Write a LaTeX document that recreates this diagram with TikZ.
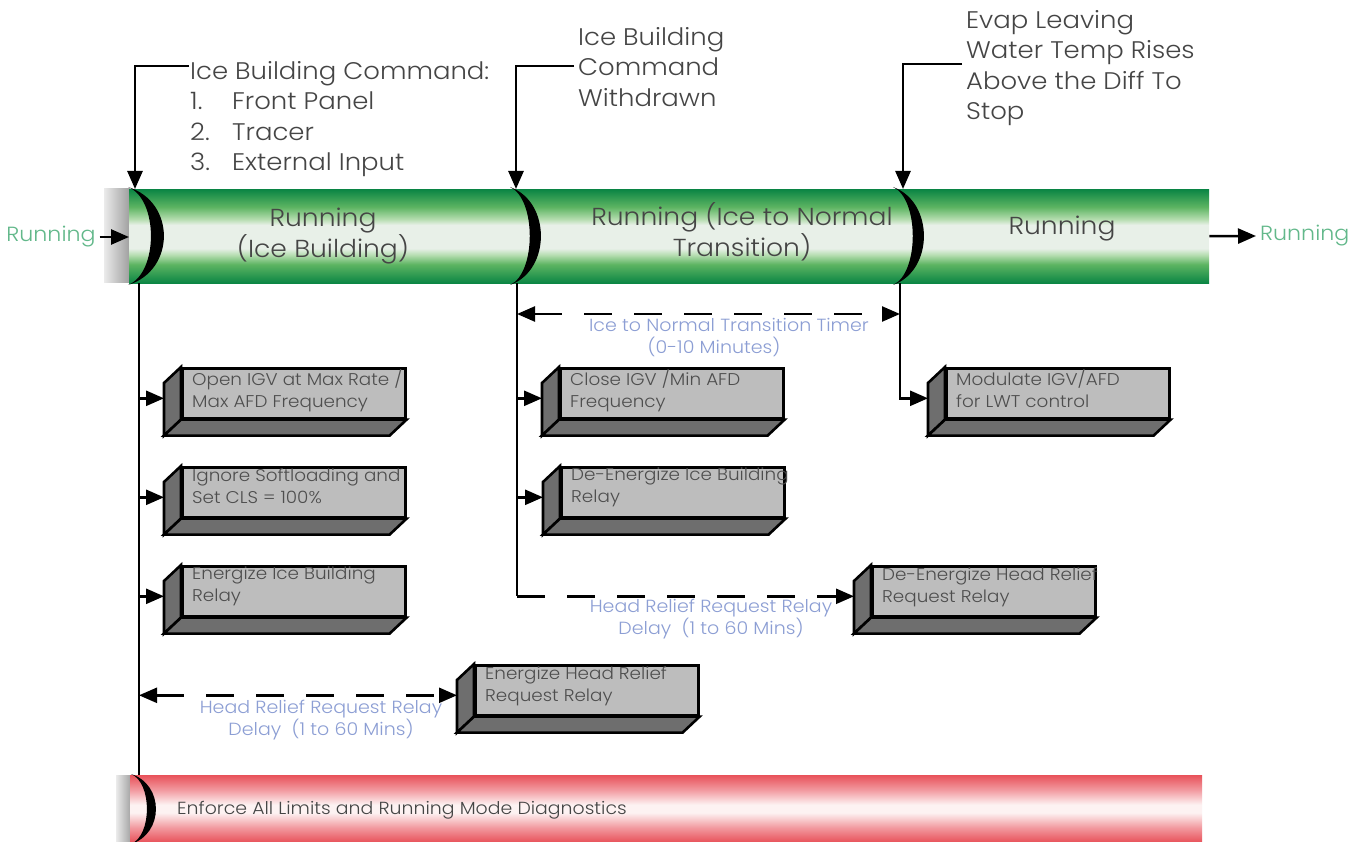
\documentclass[tikz,border=0pt]{standalone}
\usepackage{fontspec}
\setmainfont{Poppins}[UprightFont=* Light, FakeStretch=1.08]
\usetikzlibrary{arrows.meta,calc}
\definecolor{gdark}{HTML}{0A8544}
\definecolor{gmid}{HTML}{5DB462}
\definecolor{gpale}{HTML}{B5DDB0}
\definecolor{glight}{HTML}{E8F0E8}
\definecolor{rdark}{HTML}{E8525A}
\definecolor{rmid}{HTML}{F29AA0}
\definecolor{rlight}{HTML}{FDF2F2}
\definecolor{boxgray}{HTML}{BDBDBD}
\definecolor{sidegray}{HTML}{6E6E6E}
\definecolor{txtgray}{HTML}{4E4E4E}
\definecolor{annot}{HTML}{454545}
\definecolor{bluelab}{HTML}{8C9ED4}
\definecolor{greenlab}{HTML}{62B88A}
\pgfdeclareverticalshading{greenbar}{100bp}{color(0bp)=(gdark); color(25bp)=(gdark); color(35bp)=(gmid); color(40bp)=(gpale); color(43.5bp)=(glight); color(56bp)=(glight); color(59bp)=(gpale); color(65.5bp)=(gmid); color(75bp)=(gdark); color(100bp)=(gdark)}
\pgfdeclareverticalshading{redbar}{100bp}{color(0bp)=(rdark); color(25bp)=(rdark); color(36bp)=(rmid); color(47bp)=(rlight); color(53bp)=(rlight); color(64bp)=(rmid); color(75bp)=(rdark); color(100bp)=(rdark)}
\newcommand\mycresc[4]{%
  \fill[black] (#1,#2) .. controls ({#1+1.33*#4},{#2+0.15*(#3-#2)}) and ({#1+1.33*#4},{#3-0.15*(#3-#2)}) .. (#1,#3)
     .. controls ({#1+0.85*#4},{#3-0.12*(#3-#2)}) and ({#1+0.85*#4},{#2+0.12*(#3-#2)}) .. cycle;}
\newcommand\mybox[4]{%
  \node[front] (#1) at (#2,#3) {};
  \filldraw[side] (#1.north west) -- ++(-17,16) -- ([shift={(-17,16)}]#1.south west) -- (#1.south west) -- cycle;
  \filldraw[side] (#1.south west) -- ++(-17,16) -- ([shift={(-17,16)}]#1.south east) -- (#1.south east) -- cycle;
  \node[btxt] (#1t) at ([shift={(11,2)}]#1.north west) {#4};
  \coordinate (#1in) at ([shift={(-17,5)}]#1.west);}
\tikzset{
  conn/.style={line width=2.6pt, draw=black},
  arr/.style={-{Triangle[length=18pt,width=15pt]}},
  darr/.style={{Triangle[length=18pt,width=15pt]}-{Triangle[length=18pt,width=15pt]}},
  dsh/.style={line width=2.4pt, draw=black, dash pattern=on 28pt off 22pt},
  front/.style={draw=black, line width=2.6pt, fill=boxgray, minimum width=223pt, minimum height=50pt, anchor=north west, inner sep=0pt},
  side/.style={draw=black, line width=2.6pt, fill=sidegray, line join=miter},
  btxt/.style={text=txtgray, font=\fontsize{17}{22}\selectfont, align=left, anchor=north west, inner sep=0pt},
  annottxt/.style={text=annot, font=\fontsize{24}{30.5}\selectfont, align=left, anchor=north west, inner sep=0pt},
  bartxt/.style={text=annot, font=\fontsize{24.6}{31}\selectfont, align=center, inner sep=0pt},
  bluetxt/.style={text=bluelab, font=\fontsize{17.6}{22}\selectfont, align=center, inner sep=0pt},
  greentxt/.style={text=greenlab, font=\fontsize{20.5}{26}\selectfont, inner sep=4pt},
}
\begin{document}
\begin{tikzpicture}[x=1pt,y=-1pt]
\useasboundingbox (0,0) rectangle (1368,842);
\fill[white] (0,0) rectangle (1368,842);
% bars
\shade[left color=black!8, right color=black!38] (104,189) rectangle (130,283);
\node[shade, shading=greenbar, minimum width=1080pt, minimum height=94pt, anchor=north west, inner sep=0pt] (gb) at (129,189) {};
\shade[left color=black!8, right color=black!38] (116,775) rectangle (132,842);
\node[shade, shading=redbar, minimum width=1072pt, minimum height=67pt, anchor=north west, inner sep=0pt] (rb) at (130,775) {};
% crescents
\mycresc{128}{187}{285}{36}
\mycresc{510}{187}{285}{31}
\mycresc{893}{187}{285}{31}
\mycresc{131}{774}{844}{25}
% bar texts
\node[bartxt] (g1) at (323,236) {Running\\(Ice Building)};
\node[bartxt] (g2) at (742,232) {Running (Ice to Normal\\Transition)};
\node[bartxt] (g3) at (1062,229) {Running};
\node[text=annot, font=\fontsize{17.5}{22}\selectfont, anchor=west, inner sep=0pt] (rt) at (177,810) {Enforce All Limits and Running Mode Diagnostics};
% side labels
\node[greentxt] (inL) at (51,237) {Running};
\node[greentxt, anchor=west] (outR) at (1256,236) {Running};
\draw[conn,arr] (inL.east) -- (gb.west |- inL.east);
\draw[conn,arr] (gb.east) -- (outR.west);
% annotations
\node[annottxt] (t1) at (190,61) {Ice Building Command:\\\makebox[42pt][l]{1.}Front Panel\\\makebox[42pt][l]{2.}Tracer\\\makebox[42pt][l]{3.}External Input};
\node[annottxt] (t2) at (578,27) {Ice Building\\Command\\Withdrawn};
\node[annottxt] (t3) at (966,10) {Evap Leaving\\Water Temp Rises\\Above the Diff To\\Stop};
\coordinate (a1) at (189,66);
\coordinate (a2) at (574,66);
\coordinate (a3) at (962,64);
\coordinate (c1) at (135,189);
\coordinate (c2) at (516,189);
\coordinate (c3) at (903,189);
\draw[conn,arr] (a1) -| (c1);
\draw[conn,arr] (a2) -| (c2);
\draw[conn,arr] (a3) -| (c3);
% vertical lines
\coordinate (v1) at (139,283);
\coordinate (v1b) at (139,775);
\coordinate (v2) at (517,283);
\coordinate (v3) at (900,283);
\draw[conn] (v1) -- (v1b);
% boxes
\mybox{b1}{181}{367}{Open IGV at Max Rate /\\Max AFD Frequency}
\mybox{b2}{181}{466}{Ignore Softloading and\\Set CLS = 100\%}
\mybox{b3}{181}{565}{Energize Ice Building\\Relay}
\mybox{b4}{474}{664}{Energize Head Relief\\Request Relay}
\mybox{b5}{559}{367}{Close IGV /Min AFD\\Frequency}
\mybox{b6}{560}{466}{De-Energize Ice Building\\Relay}
\mybox{b7}{871}{565}{De-Energize Head Relief\\Request Relay}
\mybox{b8}{945}{367}{Modulate IGV/AFD\\for LWT control}
% branches
\draw[conn,arr] (b1in -| v1) -- (b1in);
\draw[conn,arr] (b2in -| v1) -- (b2in);
\draw[conn,arr] (b3in -| v1) -- (b3in);
\draw[dsh,darr] (b4in -| v1) -- (b4in);
\draw[conn] (v2) -- (v2 |- b7in);
\draw[conn,arr] (b5in -| v2) -- (b5in);
\draw[conn,arr] (b6in -| v2) -- (b6in);
\draw[dsh,arr] (v2 |- b7in) -- (b7in);
\draw[conn,arr] (v3) |- (b8in);
\coordinate (d1) at (517,314);
\coordinate (d2) at (900,314);
\draw[dsh,darr] (d1) -- (d2);
% blue labels
\node[bluetxt] (l1) at (729,338) {Ice to Normal Transition Timer\\(0-10 Minutes)\kern30pt\mbox{}};
\node[bluetxt] (l2) at (711,619) {Head Relief Request Relay\\Delay\ \ (1 to 60 Mins)};
\node[bluetxt] (l3) at (321,720) {Head Relief Request Relay\\Delay\ \ (1 to 60 Mins)};
\end{tikzpicture}
\end{document}
